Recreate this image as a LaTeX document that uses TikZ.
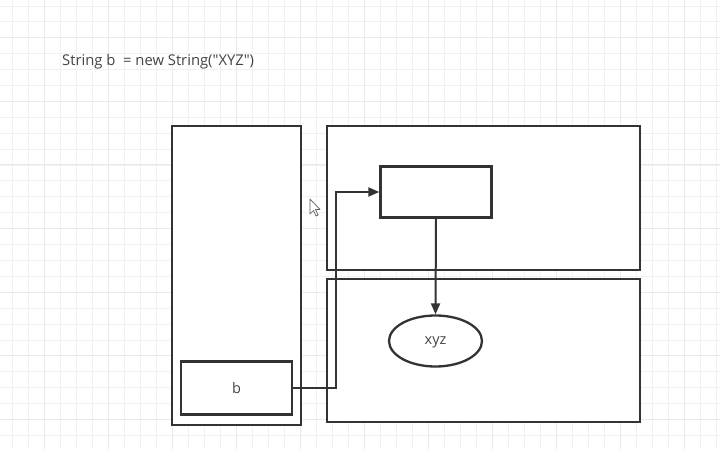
\documentclass[tikz,border=0pt]{standalone}
\usepackage{fontspec}
\setmainfont{Open Sans}[Ligatures=TeXOff]
\usetikzlibrary{arrows.meta,shapes.geometric}
\definecolor{minorgrid}{HTML}{F1F1F1}
\definecolor{majorgrid}{HTML}{EAEAEA}
\definecolor{ink}{HTML}{333333}
\definecolor{txt}{HTML}{444444}
\tikzset{
  box/.style={draw=ink, line width=2.3pt, fill=white},
  lbl/.style={text=txt, font=\fontsize{14.5}{17}\selectfont},
  conn/.style={draw=ink, line width=2pt},
  arr/.style={conn, -{Triangle[length=11pt,width=9pt]}},
}
\begin{document}
\begin{tikzpicture}[x=1pt,y=-1pt]
\useasboundingbox (0,0) rectangle (720,449);
\fill[white] (0,0) rectangle (720,449);
% grid
\foreach \i in {0,...,45} {\draw[minorgrid, line width=0.8pt] (12+16*\i,0) -- (12+16*\i,449);}
\foreach \j in {0,...,28} {\draw[minorgrid, line width=0.8pt] (0,6+15.9*\j) -- (720,6+15.9*\j);}
\foreach \i in {0,...,11} {\draw[majorgrid, line width=0.8pt] (44+64*\i,0) -- (44+64*\i,449);}
\foreach \j in {0,...,7} {\draw[majorgrid, line width=0.8pt] (0,37.7+63.6*\j) -- (720,37.7+63.6*\j);}
% title
\node[lbl, font=\fontsize{14.8}{17}\selectfont, anchor=base west, inner sep=0] (title) at (62,66) {String b\ \ = new String("XYZ")};
% stack
\node[box, minimum width=129pt, minimum height=299pt, inner sep=0] (stack) at (236.5,275.5) {};
\node[box, minimum width=111pt, minimum height=53pt, inner sep=0] (b) at (236.5,388) {};
\node[lbl, anchor=base, inner sep=0] (blabel) at (236.5,393) {b};
% heap areas
\node[box, minimum width=313pt, minimum height=144pt, inner sep=0] (heaptop) at (483.5,198) {};
\node[box, minimum width=313pt, minimum height=143pt, inner sep=0] (heapbot) at (483.5,350.5) {};
\node[box, minimum width=111pt, minimum height=51pt, inner sep=0] (obj) at (436,192) {};
\node[box, ellipse, minimum width=93pt, minimum height=51pt, inner sep=0] (xyz) at (435.5,341) {};
\node[lbl, anchor=base, inner sep=0] (xyzlabel) at (435.5,344) {xyz};
% connectors
\coordinate (bend1) at (336,388);
\coordinate (bend2) at (336,192);
\draw[arr] (b.east) -- (bend1) -- (bend2) -- (obj.west);
\draw[arr] (obj.south) -- (xyz.north);
% mouse cursor
\draw[draw=ink!80, fill=white, line width=0.7pt, line join=round]
  (310,199) -- (310,214) -- (313.5,210.5) -- (316,216) -- (318,215) -- (315.5,209.5) -- (320,209.5) -- cycle;
\end{tikzpicture}
\end{document}
